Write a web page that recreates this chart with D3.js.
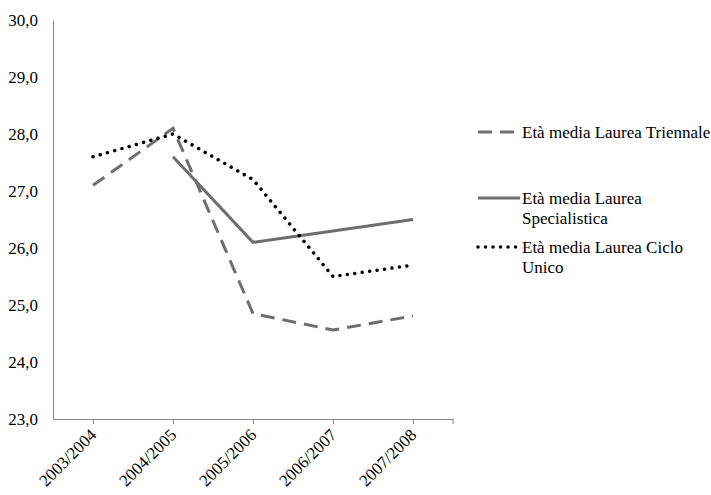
<!DOCTYPE html>
<html>
<head>
<meta charset="utf-8">
<script src="https://cdn.jsdelivr.net/npm/d3@7/dist/d3.min.js"></script>
<style>
  html, body { margin: 0; padding: 0; background: #fff; }
</style>
</head>
<body>
<svg id="chart" width="711" height="495"></svg>
<script>
// Anni accademici
const categories = ["2003/2004", "2004/2005", "2005/2006", "2006/2007", "2007/2008"];

// Età media dei laureati per tipo di corso
const triennale = [27.1, 28.1, 24.85, 24.56, 24.81];
const specialistica = [null, 27.6, 26.1, 26.3, 26.5];
const cicloUnico = [27.6, 28.0, 27.2, 25.5, 25.7];

const seriesNames = [
  "Età media Laurea Triennale",
  "Età media Laurea Specialistica",
  "Età media Laurea Ciclo Unico"
];

const yTicks = [23, 24, 25, 26, 27, 28, 29, 30];

const FONT = "Liberation Serif";

const svg = d3.select("#chart");
const margin = { left: 53, right: 258, top: 20, bottom: 76 };
const W = 711, H = 495;

const x = d3.scalePoint()
  .domain(categories)
  .range([margin.left, W - margin.right])
  .padding(0.5);

const y = d3.scaleLinear()
  .domain([23, 30])
  .range([H - margin.bottom, margin.top]);

const axisColor = "#868686";
const fontSize = 17;

// Asse Y
const gy = svg.append("g")
  .attr("transform", `translate(${margin.left},0)`)
  .call(d3.axisLeft(y).tickValues(yTicks).tickSize(0).tickPadding(15)
    .tickFormat(d => d3.format(".1f")(d).replace(".", ",")));
gy.attr("font-family", FONT).attr("font-size", fontSize);
gy.select(".domain").attr("stroke", axisColor);
gy.selectAll("text").attr("fill", "#000").attr("font-family", FONT).attr("font-size", fontSize);

// Asse X
const gx = svg.append("g")
  .attr("transform", `translate(0,${y(23)})`)
  .call(d3.axisBottom(x).tickSize(5).tickSizeOuter(0).tickPadding(6));
gx.attr("font-family", FONT).attr("font-size", fontSize);
gx.select(".domain").attr("stroke", axisColor);
gx.selectAll(".tick line").attr("stroke", axisColor);
gx.append("line")
  .attr("x1", x.range()[1]).attr("x2", x.range()[1])
  .attr("y1", 0).attr("y2", 5)
  .attr("stroke", axisColor);
gx.selectAll(".tick text")
  .attr("fill", "#000")
  .attr("font-family", FONT)
  .attr("font-size", fontSize)
  .attr("text-anchor", "end")
  .attr("dy", null)
  .attr("transform", "translate(4,17) rotate(-45)")
  .attr("y", 0).attr("x", 0);

// Stili delle serie
const styles = [
  { values: triennale, stroke: "#6e6e6e", width: 3, dash: "14 8", cap: "butt" },
  { values: specialistica, stroke: "#6e6e6e", width: 3, dash: null, cap: "butt" },
  { values: cicloUnico, stroke: "#000", width: 3.5, dash: "0.01 7.5", cap: "round" }
];

const line = d3.line()
  .defined(d => d.v != null)
  .x(d => x(d.c))
  .y(d => y(d.v));

styles.forEach(s => {
  const pts = categories.map((c, i) => ({ c, v: s.values[i] }));
  svg.append("path")
    .datum(pts)
    .attr("d", line)
    .attr("fill", "none")
    .attr("stroke", s.stroke)
    .attr("stroke-width", s.width)
    .attr("stroke-dasharray", s.dash)
    .attr("stroke-linecap", s.cap)
    .attr("stroke-linejoin", "miter");
});

// Legenda
const legendRows = [
  { lines: ["Età media Laurea Triennale"], y: 132 },
  { lines: ["Età media Laurea", "Specialistica"], y: 198 },
  { lines: ["Età media Laurea Ciclo", "Unico"], y: 247 }
];
const lg = svg.append("g");
legendRows.forEach((r, i) => {
  const s = styles[i];
  lg.append("line")
    .attr("x1", 478).attr("x2", 520)
    .attr("y1", r.y).attr("y2", r.y)
    .attr("stroke", s.stroke)
    .attr("stroke-width", s.width)
    .attr("stroke-dasharray", s.dash)
    .attr("stroke-linecap", s.cap);
  const t = lg.append("text")
    .attr("x", 522)
    .attr("y", r.y)
    .attr("font-family", FONT)
    .attr("font-size", fontSize)
    .attr("fill", "#000");
  r.lines.forEach((l, j) => {
    t.append("tspan").attr("x", 522).attr("dy", j === 0 ? "0.35em" : "1.2em").text(l);
  });
});
</script>
</body>
</html>
